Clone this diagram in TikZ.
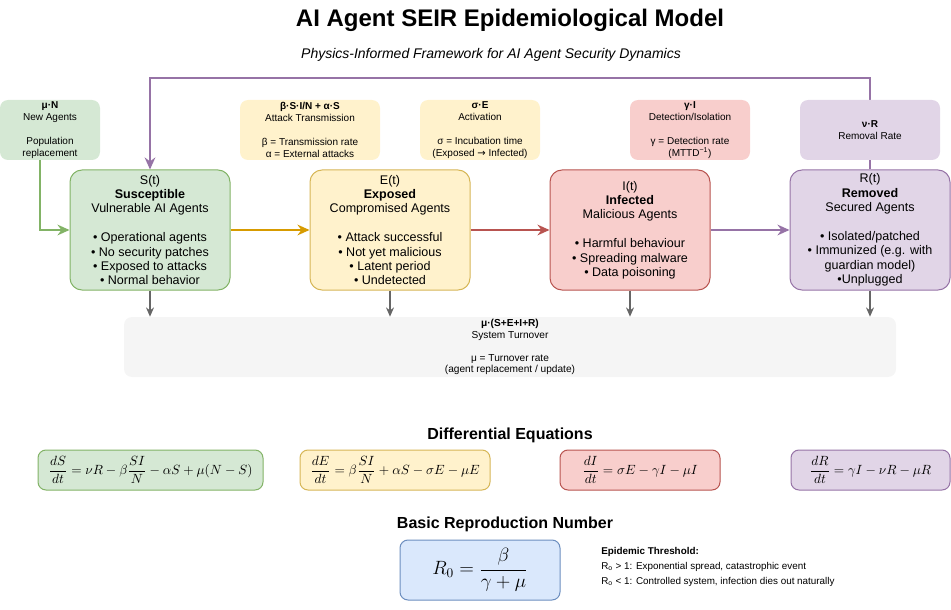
\documentclass[tikz,border=0pt]{standalone}
\usepackage{fontspec}
\setmainfont{Liberation Sans}
\newfontfamily\symfont{DejaVu Sans}
\usepackage{amsmath}
\usetikzlibrary{arrows.meta}

\definecolor{greenfill}{HTML}{D5E8D4}
\definecolor{greenline}{HTML}{82B366}
\definecolor{yellowfill}{HTML}{FFF2CC}
\definecolor{yellowline}{HTML}{D6B656}
\definecolor{orangeline}{HTML}{D79B00}
\definecolor{redfill}{HTML}{F8CECC}
\definecolor{redline}{HTML}{B85450}
\definecolor{purplefill}{HTML}{E1D5E7}
\definecolor{purpleline}{HTML}{9673A6}
\definecolor{bluefill}{HTML}{DAE8FC}
\definecolor{blueline}{HTML}{6C8EBF}
\definecolor{grayfill}{HTML}{F5F5F5}
\definecolor{arrowgray}{HTML}{666666}

\begin{document}
\begin{tikzpicture}[x=0.75pt,y=-0.75pt,
  stage/.style={draw,rounded corners=9pt,line width=0.75pt,minimum width=120pt,minimum height=90pt,
    align=center,inner sep=0pt,font=\fontsize{9.4}{10.8}\selectfont},
  rate/.style={rounded corners=6pt,minimum height=45pt,align=center,inner sep=0pt,
    font=\fontsize{7.5}{9}\selectfont},
  eqbox/.style={draw,rounded corners=6pt,line width=0.75pt,minimum height=30pt,inner sep=0pt,
    font=\fontsize{10.1}{12}\selectfont},
  flow/.style={-{Stealth[length=9pt,width=8pt]},line width=1.5pt},
  drop/.style={-{Stealth[length=7pt,width=6pt]},line width=1pt,draw=arrowgray}]
  \useasboundingbox (0,0) rectangle (951,610);

  \node (title) at (510,20) {\fontsize{18}{21}\selectfont\bfseries AI Agent SEIR Epidemiological Model};
  \node (subtitle) at (491,55) {\fontsize{10.5}{12}\selectfont\itshape Physics-Informed Framework for AI Agent Security Dynamics};

  % compartments
  \node[stage,fill=greenfill,draw=greenline] (sus) at (150,230) {S(t)\\\textbf{Susceptible}\\Vulnerable AI Agents\\[10.8pt]• Operational agents\\• No security patches\\• Exposed to attacks\\• Normal behavior};
  \node[stage,fill=yellowfill,draw=yellowline] (exp) at (390,230) {E(t)\\\textbf{Exposed}\\Compromised Agents\\[10.8pt]• Attack successful\\• Not yet malicious\\• Latent period\\• Undetected};
  \node[stage,fill=redfill,draw=redline] (inf) at (630,230) {I(t)\\\textbf{Infected}\\Malicious Agents\\[10.8pt]• Harmful behaviour\\• Spreading malware\\• Data poisoning};
  \node[stage,fill=purplefill,draw=purpleline] (rem) at (870,230) {R(t)\\\textbf{Removed}\\Secured Agents\\[10.8pt]• Isolated/patched\\• Immunized (e.g. with\\guardian model)\\•Unplugged};

  % rates
  \node[rate,fill=greenfill,minimum width=75pt] (newag) at (50,130) {\textbf{μ·N}\\New Agents\\[9pt]Population\\replacement};
  \node[rate,fill=yellowfill,minimum width=105pt] (trans) at (310,130) {\textbf{β·S·I/N + α·S}\\Attack Transmission\\[9pt]β = Transmission rate\\α = External attacks};
  \node[rate,fill=yellowfill,minimum width=90pt] (activ) at (480,130) {\textbf{σ·E}\\Activation\\[9pt]σ = Incubation time\\(Exposed {\symfont →} Infected)};
  \node[rate,fill=redfill,minimum width=90pt] (detect) at (690,130) {\textbf{γ·I}\\Detection/Isolation\\[9pt]γ = Detection rate\\(MTTD\textsuperscript{−1})};
  \node[rate,fill=grayfill,minimum width=579pt,font=\fontsize{7.6}{8.6}\selectfont] (turnover) at (510,347) {\textbf{μ·(S+E+I+R)}\\System Turnover\\[8.6pt]μ = Turnover rate\\(agent replacement / update)};

  \draw[flow,draw=greenline] ([xshift=-7.5pt]newag.south) |- (sus.west);
  \draw[flow,draw=orangeline] (sus) -- (exp);
  \draw[flow,draw=redline] (exp) -- (inf);
  \draw[flow,draw=purpleline] (inf) -- (rem);
  \coordinate (loop) at (870,78);
  \draw[flow,draw=purpleline] (rem.north) -- (loop) -| (sus.north);
  \node[rate,fill=purplefill,minimum width=105pt] (removal) at (870,130) {\textbf{ν·R}\\Removal Rate};

  \foreach \n in {sus,exp,inf,rem}
    \draw[drop] (\n.south) -- (\n.south |- turnover.north);

  % equations
  \node (eqhead) at (510,435) {\fontsize{12}{14}\selectfont\bfseries Differential Equations};
  \node[eqbox,fill=greenfill,draw=greenline,minimum width=168.75pt] (eqS) at (150.5,470) {$\dfrac{dS}{dt} = \nu R - \beta\dfrac{SI}{N} - \alpha S + \mu(N-S)$};
  \node[eqbox,fill=yellowfill,draw=yellowline,minimum width=142.5pt] (eqE) at (395,470) {$\dfrac{dE}{dt} = \beta\dfrac{SI}{N} + \alpha S - \sigma E - \mu E$};
  \node[eqbox,fill=redfill,draw=redline,minimum width=120pt] (eqI) at (640,470) {$\dfrac{dI}{dt} = \sigma E - \gamma I - \mu I$};
  \node[eqbox,fill=purplefill,draw=purpleline,minimum width=119.25pt] (eqR) at (870.5,470) {$\dfrac{dR}{dt} = \gamma I - \nu R - \mu R$};

  \node (rhead) at (505,524) {\fontsize{12}{14}\selectfont\bfseries Basic Reproduction Number};
  \node[eqbox,fill=bluefill,draw=blueline,minimum width=120pt,minimum height=45pt,font=\fontsize{14}{17}\selectfont] (rzero) at (480,570) {$R_0 = \dfrac{\beta}{\gamma+\mu}$};
  \node[anchor=north west,align=left,inner sep=0pt,font=\fontsize{7.4}{11.25}\selectfont] (thresh) at (601,547) {\textbf{Epidemic Threshold:}\\R\textsubscript{o} > 1: Exponential spread, catastrophic event\\R\textsubscript{o} < 1: Controlled system, infection dies out naturally};
\end{tikzpicture}
\end{document}
